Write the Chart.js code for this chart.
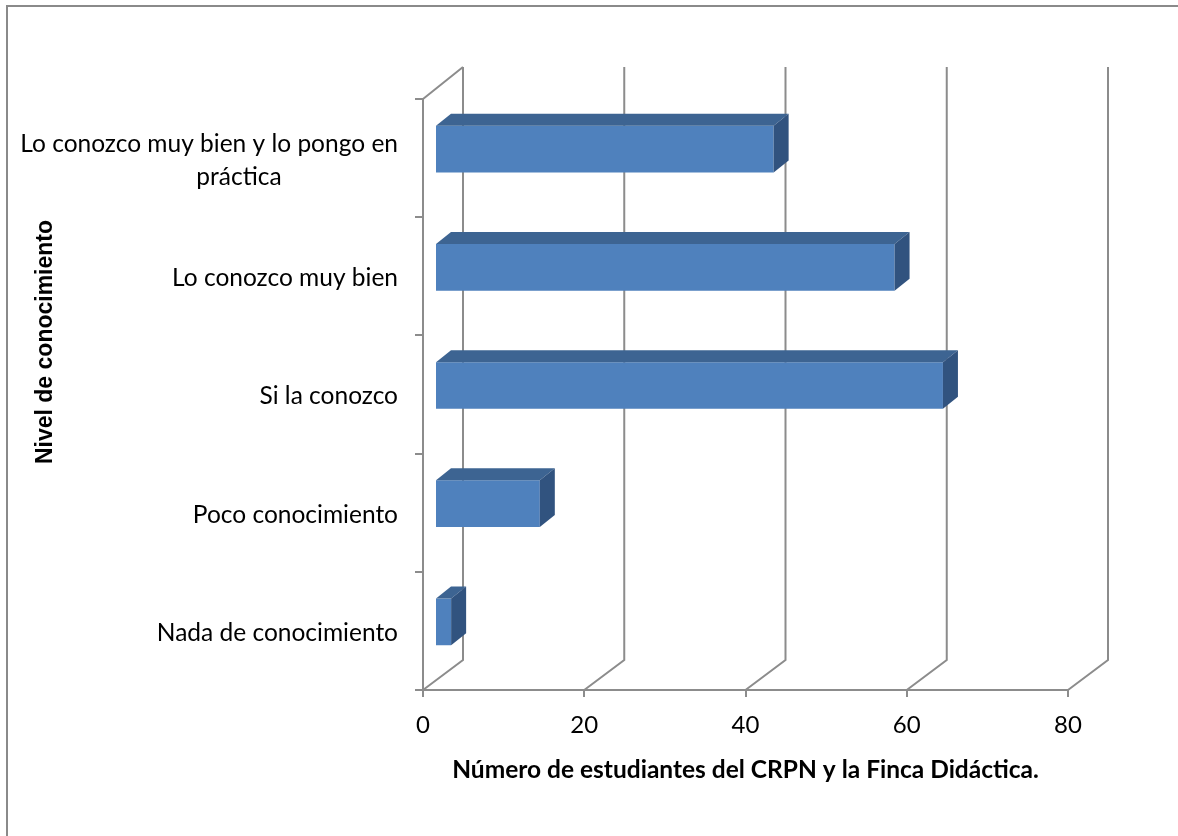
<!DOCTYPE html>
<html>
<head>
<meta charset="utf-8">
<script src="https://cdn.jsdelivr.net/npm/chart.js@4.4.1/dist/chart.umd.min.js"></script>
<style>
  html, body { margin: 0; padding: 0; background: #fff; overflow: hidden; }
  #frame {
    position: absolute; left: 6px; top: 5px; width: 1170px; height: 831px;
    border-left: 2px solid #8a8a8a; border-top: 2px solid #8a8a8a;
  }
  #chart { position: absolute; left: 0; top: 0; }
</style>
</head>
<body>
<div id="frame"></div>
<canvas id="chart" width="1178" height="836"></canvas>
<script>
// Knowledge levels, top to bottom
const categories = [
  ['Lo conozco muy bien y lo pongo en', 'práctica'],
  'Lo conozco muy bien',
  'Si la conozco',
  'Poco conocimiento',
  'Nada de conocimiento'
];
const students = [42, 57, 63, 13, 2];
const xTicks = [0, 20, 40, 60, 80];

const xTitle = 'Número de estudiantes del CRPN y la Finca Didáctica.';
const yTitle = 'Nivel de conocimiento';

const FONT = 'Lato, "Open Sans", sans-serif';

const colors = {
  front: '#4F81BD',
  top: '#3D6492',
  side: '#31537F',
  wall: '#8C8C8C',
  text: '#000000'
};

// Fake 3D: wall depth, where the bars sit inside it, and bar thickness
const depth = { wallX: 40, wallY: 30, barX: 12, barY: 9, faceX: 15, faceY: 12 };

const bars3d = {
  id: 'bars3d',
  beforeDatasetsDraw(chart) {
    const { ctx, chartArea: { left, top, bottom }, scales: { x } } = chart;
    ctx.save();
    ctx.strokeStyle = colors.wall;
    ctx.lineWidth = 2;
    ctx.beginPath();
    // top edge of the left wall
    ctx.moveTo(left, top);
    ctx.lineTo(left + depth.wallX, top - depth.wallY - 2);
    // floor diagonals + back wall gridlines
    x.ticks.forEach(t => {
      const px = x.getPixelForValue(t.value);
      ctx.moveTo(px, bottom);
      ctx.lineTo(px + depth.wallX, bottom - depth.wallY);
      ctx.lineTo(px + depth.wallX, top - depth.wallY - 2);
    });
    ctx.stroke();
    ctx.restore();

    // push the bars back into the middle of the floor
    ctx.save();
    ctx.translate(depth.barX, -depth.barY);
  },
  afterDatasetsDraw(chart) {
    const { ctx } = chart;
    const fx = depth.faceX, fy = depth.faceY;
    chart.getDatasetMeta(0).data.forEach(bar => {
      const { x, y, base, height } = bar.getProps(['x', 'y', 'base', 'height'], true);
      const t = y - height / 2, b = y + height / 2;
      ctx.fillStyle = colors.top;
      ctx.beginPath();
      ctx.moveTo(base, t);
      ctx.lineTo(x, t);
      ctx.lineTo(x + fx, t - fy);
      ctx.lineTo(base + fx, t - fy);
      ctx.closePath();
      ctx.fill();
      ctx.fillStyle = colors.side;
      ctx.beginPath();
      ctx.moveTo(x, t);
      ctx.lineTo(x + fx, t - fy);
      ctx.lineTo(x + fx, b - fy);
      ctx.lineTo(x, b);
      ctx.closePath();
      ctx.fill();
    });
    ctx.restore();
  },
  afterDraw(chart) {
    const { ctx, scales: { y } } = chart;

    // category labels: right aligned, wrapped lines centred under a fixed box
    const right = 398, boxWidth = 318, lineGap = 33;
    ctx.save();
    ctx.font = '24.5px ' + FONT;
    ctx.fillStyle = colors.text;
    ctx.textBaseline = 'middle';
    ctx.textAlign = 'center';
    chart.data.labels.forEach((label, i) => {
      const lines = [].concat(label);
      const cy = y.getPixelForTick(i) + 2 - (lines.length - 1) * lineGap / 2;
      lines.forEach((line, j) => {
        const w = ctx.measureText(line).width;
        const cx = lines.length > 1 ? right - Math.max(w, boxWidth) / 2 : right - w / 2;
        ctx.fillText(line, cx, cy + j * lineGap);
      });
    });

    // vertical axis title
    ctx.translate(46, 342);
    ctx.rotate(-Math.PI / 2);
    ctx.font = 'bold 23px "Liberation Sans", Arial, sans-serif';
    ctx.fillText(yTitle, 0, 0);
    ctx.restore();
  }
};

new Chart(document.getElementById('chart'), {
  type: 'bar',
  data: {
    labels: categories,
    datasets: [{
      data: students,
      backgroundColor: colors.front,
      borderWidth: 0,
      categoryPercentage: 1,
      barPercentage: 0.395
    }]
  },
  options: {
    indexAxis: 'y',
    responsive: false,
    animation: false,
    devicePixelRatio: 1,
    layout: { padding: { left: 8, top: 99, right: 110, bottom: 0 } },
    scales: {
      x: {
        min: xTicks[0],
        max: xTicks[xTicks.length - 1],
        afterFit: s => { s.height = 146; },
        afterBuildTicks: s => { s.ticks = xTicks.map(v => ({ value: v })); },
        border: { display: true, color: colors.wall, width: 2 },
        grid: { drawOnChartArea: false, drawTicks: true, tickLength: 7, color: colors.wall, lineWidth: 2 },
        ticks: { color: colors.text, padding: 14, font: { family: FONT, size: 24 } },
        title: {
          display: true,
          text: xTitle,
          color: colors.text,
          font: { family: FONT, size: 24.5, weight: 'bold' },
          padding: { top: 0, bottom: 51 }
        }
      },
      y: {
        afterFit: s => { s.width = 415; },
        border: { display: true, color: colors.wall, width: 2 },
        grid: { drawOnChartArea: false, drawTicks: true, tickLength: 8, color: colors.wall, lineWidth: 2, offset: true },
        ticks: { display: false }
      }
    },
    plugins: {
      legend: { display: false },
      tooltip: { enabled: false }
    }
  },
  plugins: [bars3d]
});
</script>
</body>
</html>
